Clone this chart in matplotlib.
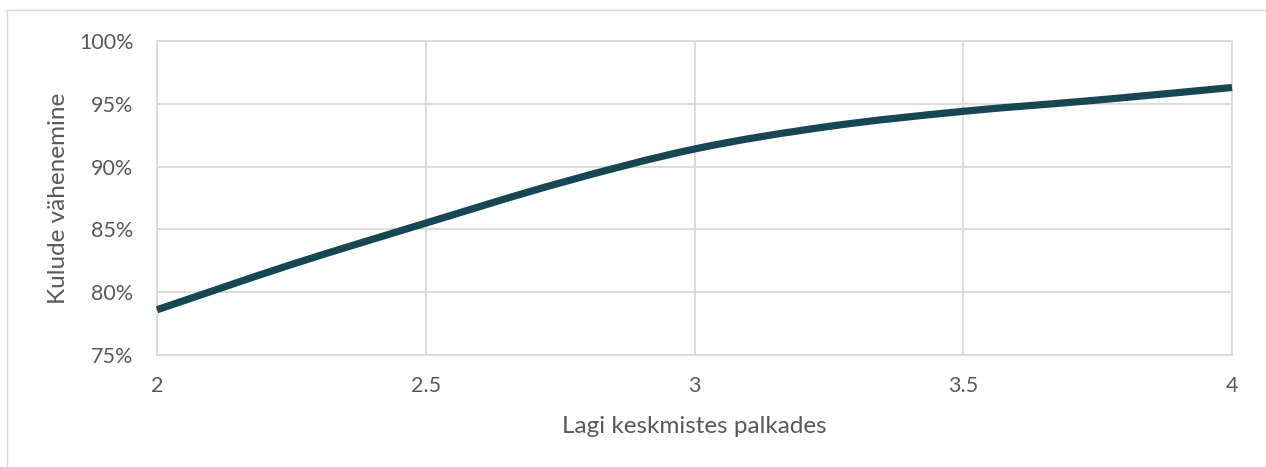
import matplotlib
matplotlib.use('Agg')
import matplotlib.pyplot as plt
from matplotlib.path import Path
from matplotlib.patches import PathPatch
from matplotlib.lines import Line2D
from matplotlib.ticker import FuncFormatter

# andmed (loetud jooniselt)
lagi = [2.0, 2.25, 2.5, 2.75, 3.0, 3.25, 3.5, 3.75, 4.0]
vahenemine = [0.786, 0.822, 0.855, 0.887, 0.914, 0.932, 0.944, 0.953, 0.963]
x_ticks = [2, 2.5, 3, 3.5, 4]
y_ticks = [0.75, 0.80, 0.85, 0.90, 0.95, 1.00]

line_color = '#164753'
grid_color = '#d9d9d9'
text_color = '#595959'

plt.rcParams['font.family'] = ['Lato', 'DejaVu Sans']

fig = plt.figure(figsize=(12.66, 4.67), dpi=100)
ax = fig.add_axes([157 / 1266, 1 - 355 / 467, (1232 - 157) / 1266, (355 - 41) / 467])

# silutud joon (Exceli stiilis Bezier kõverad läbi punktide)
verts = [(lagi[0], vahenemine[0])]
codes = [Path.MOVETO]
n = len(lagi)
for i in range(n - 1):
    x0, y0 = lagi[max(i - 1, 0)], vahenemine[max(i - 1, 0)]
    x1, y1 = lagi[i], vahenemine[i]
    x2, y2 = lagi[i + 1], vahenemine[i + 1]
    x3, y3 = lagi[min(i + 2, n - 1)], vahenemine[min(i + 2, n - 1)]
    c1 = (x1 + (x2 - x0) / 6, y1 + (y2 - y0) / 6)
    c2 = (x2 - (x3 - x1) / 6, y2 - (y3 - y1) / 6)
    verts += [c1, c2, (x2, y2)]
    codes += [Path.CURVE4] * 3
ax.add_patch(PathPatch(Path(verts, codes), facecolor='none', edgecolor=line_color,
                       lw=5.2, capstyle='butt', zorder=3, clip_on=False))

ax.set_xlim(2, 4)
ax.set_ylim(0.75, 1.0)
ax.set_xticks(x_ticks)
ax.set_yticks(y_ticks)
ax.xaxis.set_major_formatter(FuncFormatter(lambda v, p: f'{v:g}'))
ax.yaxis.set_major_formatter(FuncFormatter(lambda v, p: f'{v * 100:.0f}%'))
ax.grid(True, color=grid_color, lw=1.3)
ax.set_axisbelow(True)
for s in ax.spines.values():
    s.set_color(grid_color)
    s.set_linewidth(1.3)
ax.tick_params(length=0, labelsize=15.5, labelcolor=text_color)
ax.tick_params(axis='y', pad=17)
ax.tick_params(axis='x', pad=15)

ax.set_xlabel('Lagi keskmistes palkades', fontsize=17.5, color=text_color, va='center')
ax.xaxis.set_label_coords(0.5, -0.229)
ax.set_ylabel('Kulude vähenemine', fontsize=17.5, color=text_color, va='center')
ax.yaxis.set_label_coords(-0.092, 0.5)

# joonise raam
fig.add_artist(Line2D([7 / 1266, 1], [1 - 10 / 467] * 2, color=grid_color, lw=1, transform=fig.transFigure))
fig.add_artist(Line2D([7 / 1266] * 2, [0, 1 - 10 / 467], color=grid_color, lw=1, transform=fig.transFigure))

fig.savefig('out.png', dpi=100)
